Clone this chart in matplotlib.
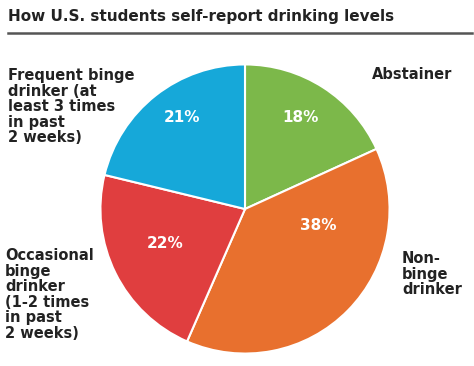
import matplotlib.pyplot as plt

# data
categories = ["Abstainer", "Non-binge drinker", "Occasional binge drinker", "Frequent binge drinker"]
shares = [18, 38, 22, 21]
pct_labels = ["18%", "38%", "22%", "21%"]
colors = ["#7cb84a", "#e8702e", "#e03e3f", "#16a8d9"]

W, H = 474, 366
fig = plt.figure(figsize=(W / 100, H / 100), dpi=100)

def px(x, y):
    return x / W, 1 - y / H

# pie axes: centre ~(245, 209) px, radius ~145 px
cx, cy, r = 245, 209, 146
ax = fig.add_axes([(cx - r) / W, (H - cy - r) / H, 2 * r / W, 2 * r / H])
wedges, _ = ax.pie(shares, colors=colors, startangle=90, counterclock=False,
                   wedgeprops=dict(edgecolor="white", linewidth=1.5))
ax.set_aspect("equal")
ax.set_xlim(-1.01, 1.01)
ax.set_ylim(-1.01, 1.01)
ax.axis("off")

# percentage labels inside wedges
pct_pos = [(300, 118), (318, 226), (165, 243), (182, 118)]
for (x, y), t in zip(pct_pos, pct_labels):
    fig.text(*px(x, y), t, color="white", fontsize=11, fontweight="bold",
             ha="center", va="center")

# title and rule
fig.text(*px(8, 17), "How U.S. students self-report drinking levels",
         fontsize=11, fontweight="bold", color="#222222", ha="left", va="center")
fig.add_artist(plt.Line2D([8 / W, 472 / W], [1 - 33 / H, 1 - 33 / H],
                          color="#555555", linewidth=1.8))

lab = dict(fontsize=10.5, fontweight="bold", color="#222222", ha="left",
           va="top", linespacing=1.05)
fig.text(*px(8, 68), "Frequent binge\ndrinker (at\nleast 3 times\nin past\n2 weeks)", **lab)
fig.text(*px(372, 67), "Abstainer", **lab)
fig.text(*px(402, 251), "Non-\nbinge\ndrinker", **lab)
fig.text(*px(5, 248), "Occasional\nbinge\ndrinker\n(1-2 times\nin past\n2 weeks)", **lab)

fig.savefig("out.png", dpi=100)
